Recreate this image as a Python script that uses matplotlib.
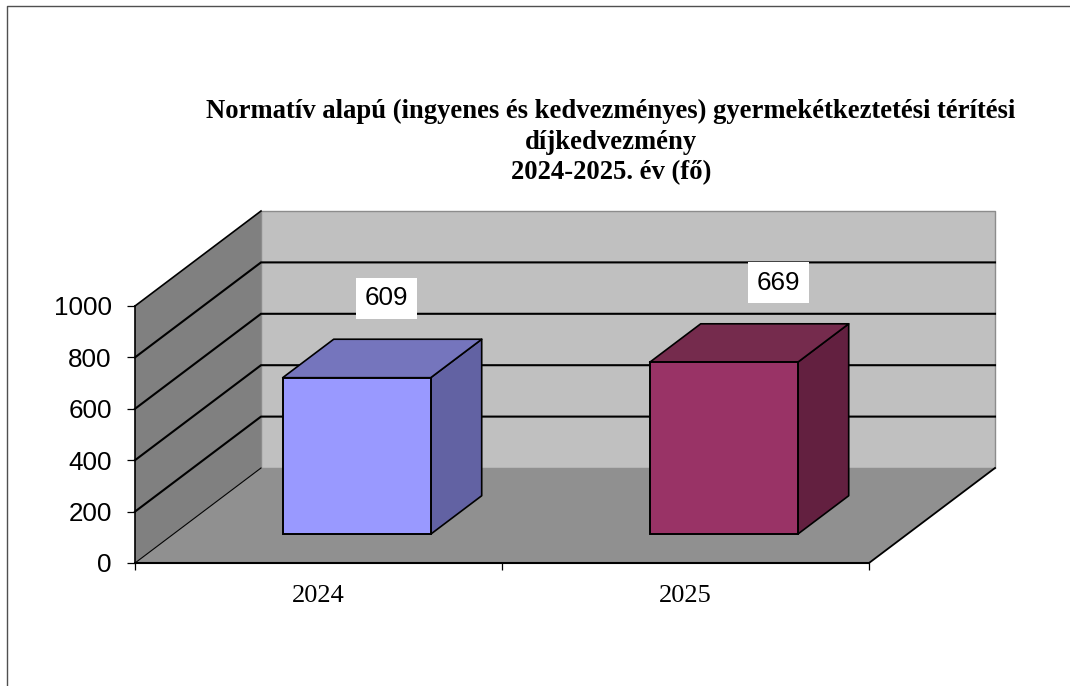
import matplotlib
matplotlib.use("Agg")
import matplotlib.pyplot as plt
from matplotlib.patches import Polygon
from matplotlib.lines import Line2D

categories = ["2024", "2025"]
values = [609, 669]
y_ticks = [0, 200, 400, 600, 800, 1000]
title = ("Normatív alapú (ingyenes és kedvezményes) gyermekétkeztetési térítési\n"
         "díjkedvezmény\n2024-2025. év (fő)")
front_colors = ["#9999FF", "#993366"]
top_colors = ["#7575BD", "#752B4D"]
side_colors = ["#6262A3", "#632040"]
label_shift_px = [30, 55]

W, H = 1070, 686
fig = plt.figure(figsize=(W / 100, H / 100), dpi=100, facecolor="white")
left, right, y0, y1 = 135, 869, 563, 306
ax = fig.add_axes([left / W, (H - y0) / H, (right - left) / W, (y0 - y1) / H])
ax.set_xlim(-0.5, 1.5)
ax.set_ylim(0, 1000)
ax.patch.set_alpha(0)

px_x = (right - left) / 2.0      # pixels per category
px_y = (y0 - y1) / 1000.0        # pixels per value unit
DX = 126 / px_x                  # full depth in data units
DY = 95 / px_y


def p(x, y, d=0.0):
    return (x + d * DX, y + d * DY)


def face(pts, color, ec="none", lw=0.0, z=1):
    ax.add_patch(Polygon(pts, closed=True, facecolor=color, edgecolor=ec,
                         linewidth=lw, zorder=z, clip_on=False, joinstyle="round"))


# walls and floor
xl, xr, ymax = -0.5, 1.5, 1000
face([p(xl, 0, 1), p(xr, 0, 1), p(xr, ymax, 1), p(xl, ymax, 1)], "#C0C0C0", "#8C8C8C", 1.0, 1)
face([p(xl, 0), p(xl, 0, 1), p(xl, ymax, 1), p(xl, ymax)], "#808080", "none", 0, 1.5)
for t in y_ticks[1:-1]:
    ax.plot(*zip(p(xl, t), p(xl, t, 1), p(xr, t, 1)), color="black", lw=1.5, zorder=2,
            clip_on=False, solid_joinstyle="miter")
ax.plot(*zip(p(xl, ymax), p(xl, ymax, 1)), color="black", lw=1.2, zorder=2, clip_on=False)
face([p(xl, 0), p(xr, 0), p(xr, 0, 1), p(xl, 0, 1)], "#909090", "none", 0, 3)
ax.plot(*zip(p(xl, 0), p(xl, 0, 1)), color="black", lw=0.8, zorder=3.2, clip_on=False)
ax.plot(*zip(p(xr, 0), p(xr, 0, 1)), color="black", lw=1.3, zorder=3.2, clip_on=False)

# bars
bar_w = 148 / px_x
d0, d1 = 0.303, 0.708
xs = [0.0, 1.0]
for x, v, fc, tc, sc, shift in zip(xs, values, front_colors, top_colors, side_colors, label_shift_px):
    a, b = x - bar_w / 2, x + bar_w / 2
    face([p(b, 0, d0), p(b, 0, d1), p(b, v, d1), p(b, v, d0)], sc, "black", 1.2, 4)
    face([p(a, v, d0), p(b, v, d0), p(b, v, d1), p(a, v, d1)], tc, "black", 1.2, 4)
    fx, fy = p(x, 0, d0)
    ax.bar(fx, v, width=bar_w, bottom=fy, color=fc, edgecolor="black", linewidth=1.4,
           zorder=5, clip_on=False)
    lx, ly = p(x, v, d0)
    ax.annotate(str(v), xy=(lx, ly), xytext=(shift * 0.72, 79.5 * 0.72),
                textcoords="offset points", ha="center", va="center",
                fontsize=18.7, family="Liberation Sans", color="black", zorder=6,
                bbox=dict(boxstyle="square,pad=0.33", fc="white", ec="white", lw=0))

# axes furniture
for s in ("top", "right"):
    ax.spines[s].set_visible(False)
ax.spines["left"].set_linewidth(1.2)
ax.spines["bottom"].set_linewidth(1.5)
ax.spines["left"].set_zorder(7)
ax.spines["bottom"].set_zorder(7)
ax.set_yticks(y_ticks)
ax.set_yticklabels([str(t) for t in y_ticks], fontsize=18.7, family="Liberation Sans")
ax.tick_params(axis="y", length=5.8, width=0.9, pad=11)
ax.set_xticks([-0.5, 0.5, 1.5])
ax.set_xticklabels([])
ax.set_xticks(xs, minor=True)
ax.set_xticklabels(categories, minor=True, fontsize=19, family="Liberation Serif")
ax.tick_params(axis="x", which="major", length=5, width=0.9)
ax.tick_params(axis="x", which="minor", length=0, pad=16)

# title
fig.text(611 / W, 1 - 142 / H, title, ha="center", va="center", fontsize=19.2,
         fontweight="bold", family="Liberation Serif", linespacing=1.28, color="black")

# chart frame (top and left edges visible)
fig.add_artist(Line2D([7 / W, 7 / W, 1], [0, 1 - 6 / H, 1 - 6 / H], color="#505050", lw=1.0))

fig.savefig("out.png", dpi=100)
